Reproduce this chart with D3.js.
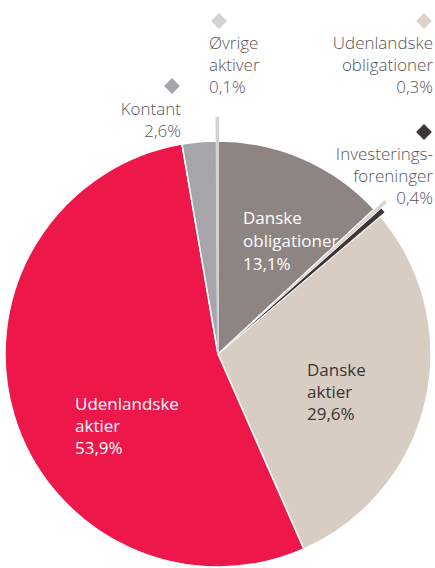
<!DOCTYPE html>
<html>
<head>
<meta charset="utf-8">
<script src="https://cdn.jsdelivr.net/npm/d3@7"></script>
<style>
  html, body { margin: 0; padding: 0; background: #fff; }
  svg { display: block; font-family: "Open Sans", Lato, sans-serif; }
</style>
</head>
<body>
<svg id="chart" width="435" height="568"></svg>
<script>
// data, clockwise from 12 o'clock
const categories = ['Danske obligationer', 'Udenlandske obligationer', 'Investeringsforeninger',
  'Danske aktier', 'Udenlandske aktier', 'Kontant', 'Øvrige aktiver'];
const values = [13.1, 0.3, 0.4, 29.6, 53.9, 2.6, 0.1];
const valueLabels = ['13,1%', '0,3%', '0,4%', '29,6%', '53,9%', '2,6%', '0,1%'];
const labelLines = [
  ['Danske', 'obligationer'],
  ['Udenlandske', 'obligationer'],
  ['Investerings-', 'foreninger'],
  ['Danske', 'aktier'],
  ['Udenlandske', 'aktier'],
  ['Kontant'],
  ['Øvrige', 'aktiver']
];

const colors = ['#8e8583', '#dcd4cc', '#3b3536', '#d8cdc3', '#ee174a', '#a6a6aa', '#d2d2d4'];

// label layout (x, first baseline, anchor, colour, marker)
const layout = {
  'Danske obligationer':      { x: 243, y: 224, anchor: 'start', fill: '#fff', lh: 23 },
  'Danske aktier':            { x: 307, y: 376, anchor: 'start', fill: '#3a3536', lh: 22 },
  'Udenlandske aktier':       { x: 75,  y: 410, anchor: 'start', fill: '#fff', lh: 22 },
  'Kontant':                  { x: 181, y: 115, anchor: 'end', fill: '#58555a', lh: 21.5, marker: [172, 86] },
  'Øvrige aktiver':           { x: 209, y: 49,  anchor: 'start', fill: '#58555a', lh: 22, marker: [219, 21] },
  'Udenlandske obligationer': { x: 433, y: 49,  anchor: 'end', fill: '#58555a', lh: 22, marker: [424, 21] },
  'Investeringsforeninger':   { x: 433, y: 160, anchor: 'end', fill: '#58555a', lh: 22, marker: [424, 132] }
};
// outer radius of the thin slices that stick out of the pie
const extrude = { 'Udenlandske obligationer': 227, 'Investeringsforeninger': 219, 'Øvrige aktiver': 236 };

const svg = d3.select('#chart');
const cx = 218, cy = 354, radius = 213;

const data = categories.map((c, i) => ({ name: c, value: values[i], label: valueLabels[i], lines: labelLines[i] }));
const color = d3.scaleOrdinal().domain(categories).range(colors);

const pie = d3.pie().sort(null).value(d => d.value);
const arcs = pie(data);
const arc = d3.arc().innerRadius(0).outerRadius(d => extrude[d.data.name] || radius);

const g = svg.append('g').attr('transform', `translate(${cx},${cy})`);

const big = arcs.filter(d => !extrude[d.data.name]);
const thin = arcs.filter(d => extrude[d.data.name]);

g.selectAll('path.big')
  .data(big)
  .join('path')
    .attr('class', 'big')
    .attr('d', arc)
    .attr('fill', d => color(d.data.name))
    .attr('stroke', '#fff')
    .attr('stroke-width', 1.5)
    .attr('stroke-linejoin', 'round');

g.selectAll('path.thin')
  .data(thin)
  .join('path')
    .attr('class', 'thin')
    .attr('d', arc)
    .attr('fill', d => color(d.data.name))
    .attr('stroke', d => d.data.name === 'Øvrige aktiver' ? color(d.data.name) : '#fff')
    .attr('stroke-width', d => d.data.name === 'Øvrige aktiver' ? 2 : 0.8);

// labels
const labels = svg.append('g').attr('class', 'labels');
data.forEach(d => {
  const l = layout[d.name];
  const t = labels.append('text')
    .attr('text-anchor', l.anchor)
    .attr('fill', l.fill)
    .attr('font-size', 17)
    .attr('font-weight', l.marker ? 300 : 400);
  d.lines.concat([d.label]).forEach((line, i) => {
    t.append('tspan').attr('x', l.x).attr('y', l.y + i * l.lh).text(line);
  });
  if (l.marker) {
    labels.append('path')
      .attr('d', d3.symbol(d3.symbolSquare, 125)())
      .attr('transform', `translate(${l.marker[0]},${l.marker[1]}) rotate(45)`)
      .attr('fill', color(d.name));
  }
});
</script>
</body>
</html>
